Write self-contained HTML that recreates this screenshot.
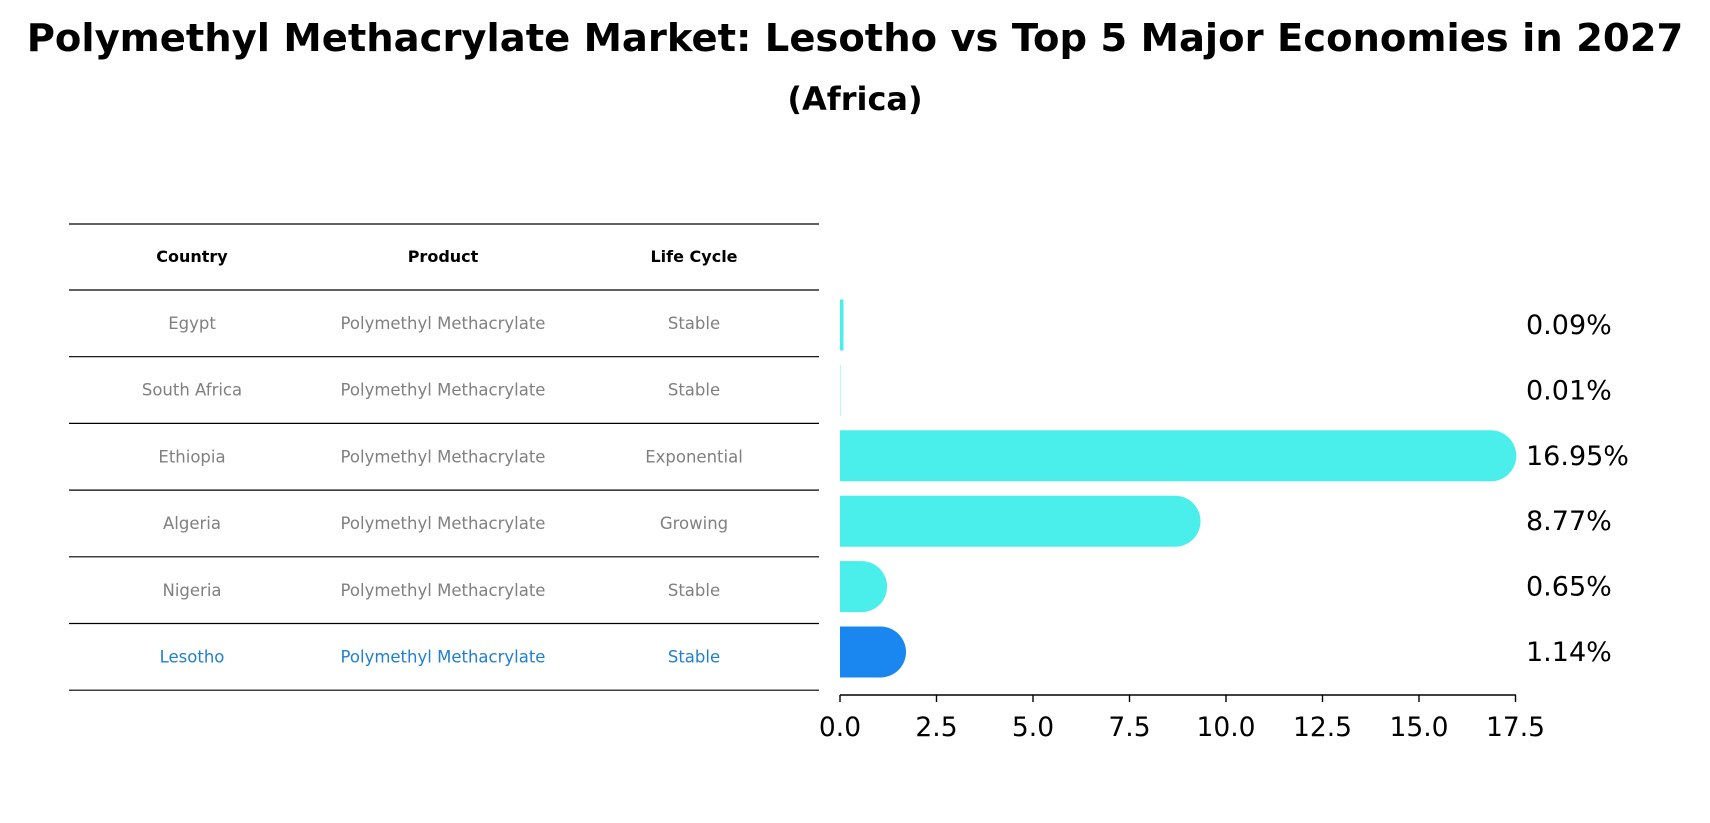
<!DOCTYPE html>
<html><head><meta charset="utf-8"><style>
body{margin:0;background:#fff;width:1710px;height:823px;overflow:hidden;font-family:"DejaVu Sans","Liberation Sans",sans-serif}
svg{display:block}
</style></head><body>
<svg width="1710" height="823" id="svg">
<text x="855" y="51" text-anchor="middle" font-size="38.5" font-weight="bold">Polymethyl Methacrylate Market: Lesotho vs Top 5 Major Economies in 2027</text>
<text x="855" y="110" text-anchor="middle" font-size="32" font-weight="bold">(Africa)</text>
<g id="table"></g>
<g id="bars"></g>
</svg>
<script>
const countries=["Egypt","South Africa","Ethiopia","Algeria","Nigeria","Lesotho"];
const products=["Polymethyl Methacrylate","Polymethyl Methacrylate","Polymethyl Methacrylate","Polymethyl Methacrylate","Polymethyl Methacrylate","Polymethyl Methacrylate"];
const lifeCycles=["Stable","Stable","Exponential","Growing","Stable","Stable"];
const shares=[0.09,0.01,16.95,8.77,0.65,1.14];
const shareLabels=["0.09%","0.01%","16.95%","8.77%","0.65%","1.14%"];
const xTicks=[0,2.5,5,7.5,10,12.5,15,17.5];
const NS="http://www.w3.org/2000/svg";
function mk(t,a,p){const e=document.createElementNS(NS,t);for(const k in a)e.setAttribute(k,a[k]);p.appendChild(e);return e;}
const tb=document.getElementById('table'),bg=document.getElementById('bars');
const x0=840,ppu=38.6;
const xs=v=>x0+v*ppu;
const rowY=i=>325+i*65.4;
const lineYs=[224,290];
for(let i=0;i<countries.length;i++)lineYs.push(290+(i+1)*66.7);
lineYs.forEach((y,i)=>{const l=mk('line',{x1:69,x2:819,y1:y,y2:y,stroke:'#000','stroke-width':1.2},tb);

});
const cols=[192,443,694];
["Country","Product","Life Cycle"].forEach((h,j)=>{const t=mk('text',{x:cols[j],y:262,'text-anchor':'middle','font-size':16,'font-weight':'bold'},tb);t.textContent=h;

});
countries.forEach((c,i)=>{
 const y=323+i*66.7+6;const col=c==="Lesotho"?'#1f7fd0':'#808080';
 [c,products[i],lifeCycles[i]].forEach((v,j)=>{const t=mk('text',{x:cols[j],y:y,'text-anchor':'middle','font-size':16.5,fill:col},tb);t.textContent=v;
 
 });
 const w=xs(shares[i])-x0;const cap=shares[i]>0.5?22:0;const h=51;const yc=rowY(i);
 const color=c==="Lesotho"?'#1a86f0':'#4aeeea';
 let b;
 if(cap>0){const r=h/2;const xe=x0+w+cap;
  b=mk('path',{d:`M${x0},${yc-r} L${xe-r},${yc-r} A${r},${r} 0 0 1 ${xe-r},${yc+r} L${x0},${yc+r} Z`,fill:color},bg);}
 else{b=mk('rect',{x:x0,y:yc-h/2,width:Math.max(w,shares[i]>0.05?2.5:0),height:h,fill:color},bg);}
 
 
 const lt=mk('text',{x:1526,y:yc+9,'font-size':27},bg);lt.textContent=shareLabels[i];
 
 
});
const ax=mk('line',{x1:x0,x2:1516,y1:695,y2:695,stroke:'#000','stroke-width':1.6},bg);


xTicks.forEach(v=>{const t=mk('line',{x1:xs(v),x2:xs(v),y1:695,y2:702,stroke:'#000','stroke-width':1.4},bg);


const l=mk('text',{x:xs(v),y:736,'text-anchor':'middle','font-size':26.5},bg);l.textContent=v.toFixed(1);

});
</script>
</body></html>
